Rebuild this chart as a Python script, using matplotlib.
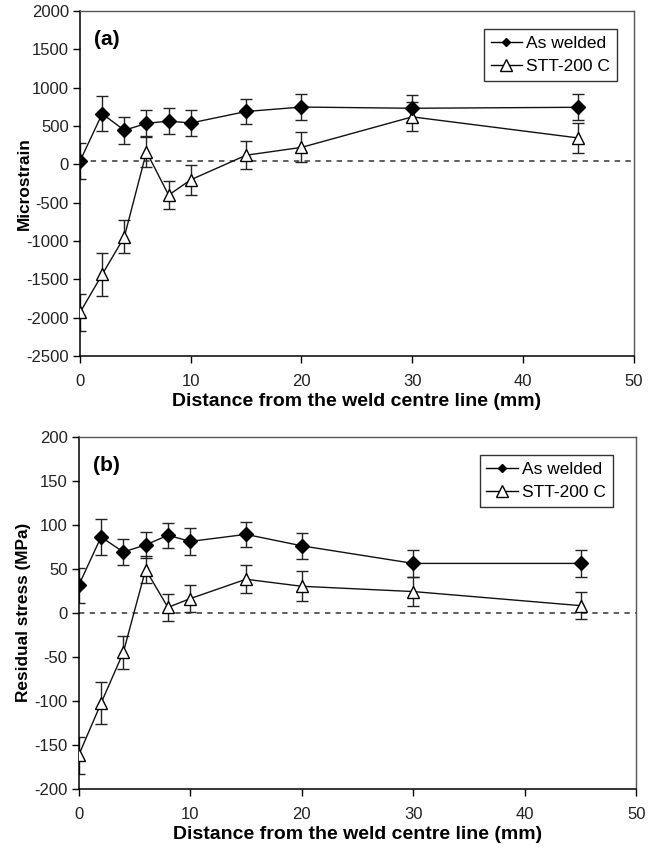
import matplotlib.pyplot as plt
import numpy as np

plt.rcParams['font.family'] = ['Liberation Sans', 'DejaVu Sans']
plt.rcParams['axes.unicode_minus'] = False

dist = [0, 2, 4, 6, 8, 10, 15, 20, 30, 45]

# (a) microstrain
strain_aw = [45, 660, 445, 535, 565, 540, 690, 748, 732, 745]
strain_aw_err = [240, 230, 175, 178, 170, 175, 165, 175, 175, 170]
strain_stt = [-1930, -1435, -945, 165, -400, -200, 120, 222, 620, 345]
strain_stt_err = [240, 285, 215, 205, 185, 195, 185, 195, 190, 190]
strain_ref = 45

# (b) residual stress (MPa)
stress_aw = [31, 86, 69, 77, 88, 81, 89, 76, 56, 56]
stress_aw_err = [20, 20, 15, 15, 14, 15, 14, 15, 15, 15]
stress_stt = [-162, -103, -45, 49, 6, 16, 38, 30, 24, 8]
stress_stt_err = [21, 24, 19, 15, 15, 15, 16, 17, 16, 15]
stress_ref = 0

fig = plt.figure(figsize=(6.56, 8.48), dpi=100)
ax1 = fig.add_axes([0.122, 0.580, 0.844, 0.407])
ax2 = fig.add_axes([0.120, 0.070, 0.850, 0.415])


def draw(ax, aw, aw_err, stt, stt_err, ref, ylim, yticks, ylabel, label_x,
         tag, tag_y, legend_pos):
    ax.axhline(ref, color='#333333', lw=1.1, ls=(0, (3.5, 3.5)), zorder=1)
    ax.errorbar(dist, stt, yerr=stt_err, fmt='none', ecolor='#222222',
                elinewidth=1.0, capsize=4, capthick=1.0, zorder=2)
    ax.errorbar(dist, aw, yerr=aw_err, fmt='none', ecolor='#222222',
                elinewidth=1.0, capsize=4, capthick=1.0, zorder=2)
    ax.plot(dist, stt, color='#111111', lw=1.0, marker='^', markersize=9,
            markerfacecolor='white', markeredgecolor='black', markeredgewidth=1.0,
            zorder=3)
    ax.plot(dist, aw, color='#111111', lw=1.0, marker='D', markersize=7,
            markerfacecolor='black', markeredgecolor='black', zorder=4)

    # legend handles (small diamond, full-size triangle)
    h1, = ax.plot([], [], color='black', lw=1.0, marker='D', markersize=4.5,
                  markerfacecolor='black')
    h2, = ax.plot([], [], color='black', lw=1.0, marker='^', markersize=9,
                  markerfacecolor='white', markeredgecolor='black')
    leg = ax.legend([h1, h2], ['As welded', 'STT-200 C'], loc='upper right',
                    bbox_to_anchor=legend_pos, fontsize=12.5, frameon=True,
                    fancybox=False, edgecolor='black', handlelength=1.8,
                    handletextpad=0.25, borderpad=0.4, labelspacing=0.45,
                    borderaxespad=0)
    leg.get_frame().set_linewidth(1.0)

    ax.set_xlim(0, 50)
    ax.set_ylim(*ylim)
    ax.set_xticks([0, 10, 20, 30, 40, 50])
    ax.set_yticks(yticks)
    ax.tick_params(direction='out', length=5, width=1.0, labelsize=12,
                   labelcolor='#222222', pad=3)
    ax.tick_params(axis='x', pad=8)
    for s in ['left', 'bottom']:
        ax.spines[s].set_linewidth(1.1)
        ax.spines[s].set_color('black')
    for s in ['top', 'right']:
        ax.spines[s].set_linewidth(1.0)
        ax.spines[s].set_color('#555555')

    ax.set_xlabel('Distance from the weld centre line (mm)', fontsize=14,
                  fontweight='bold', labelpad=3)
    ax.set_ylabel(ylabel, fontsize=12.4, fontweight='bold')
    ax.yaxis.set_label_coords(label_x, 0.5)
    ax.text(0.026, tag_y, tag, transform=ax.transAxes, fontsize=15,
            fontweight='bold', ha='left', va='center')


draw(ax1, strain_aw, strain_aw_err, strain_stt, strain_stt_err, strain_ref,
     (-2500, 2000), np.arange(-2500, 2001, 500), 'Microstrain', -0.087,
     '(a)', 0.917, (0.970, 0.948))
draw(ax2, stress_aw, stress_aw_err, stress_stt, stress_stt_err, stress_ref,
     (-200, 200), np.arange(-200, 201, 50), 'Residual stress (MPa)', -0.085,
     '(b)', 0.918, (0.958, 0.949))

fig.savefig('out.png', dpi=100)
